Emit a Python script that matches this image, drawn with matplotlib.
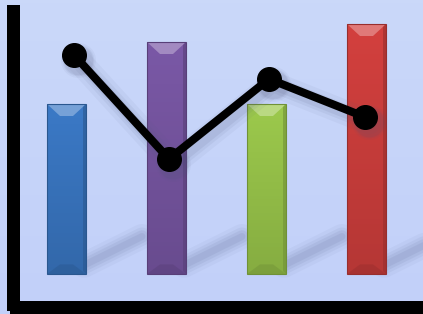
import numpy as np
import matplotlib
matplotlib.use("Agg")
from matplotlib import pyplot as plt, patches, colors

# data
categories = ["A", "B", "C", "D"]
bar_values = [6.8, 9.28, 6.8, 10.0]
bar_colors = ["#3b79c6", "#7a58a6", "#9cc94c", "#d3403e"]
line_x = [0.075, 1.025, 2.025, 2.985]
line_values = [8.76, 4.6, 7.8, 6.28]

W, H = 423, 314
fig = plt.figure(figsize=(W / 100, H / 100), dpi=100)
ax = fig.add_axes([0, 0, 1, 1])
# 1 unit in x = 100 px, 1 unit in y = 25 px
ax.set_xlim(-0.665, 3.565)
ax.set_ylim(-1.6, 10.96)
ax.axis("off")

# background gradient
bg = colors.LinearSegmentedColormap.from_list("bg", ["#c2d0f9", "#cad8f9"])
ax.imshow(np.linspace(0, 1, 100).reshape(-1, 1), cmap=bg, aspect="auto",
          extent=[-0.665, 3.565, -1.6, 10.96], origin="lower", zorder=0)

bw = 0.39
px, py = 0.01, 0.04  # one pixel in data units

# soft shadows going up-right from the foot of each bar
for i, v in enumerate(bar_values):
    x0 = i + bw / 2
    xs = np.array([x0 - 0.02, x0 + 0.56])
    ys = np.array([0.35, 1.5])
    for lw, a in [(18, 0.05), (13, 0.07), (9, 0.09), (5, 0.10)]:
        ax.plot(xs, ys, color="#56608a", lw=lw, alpha=a,
                solid_capstyle="round", zorder=1)

# bevelled bars
bars = ax.bar(range(len(categories)), bar_values, width=bw, color=bar_colors,
              zorder=2, linewidth=0)
for b, c in zip(bars, bar_colors):
    x, w, h = b.get_x(), b.get_width(), b.get_height()
    rgb = np.array(colors.to_rgb(c))
    light = rgb + (1 - rgb) * 0.3
    dark = rgb * 0.72
    dx, dy = 13 * px, 12 * py
    # gradient body
    body = colors.LinearSegmentedColormap.from_list("b", [rgb * 0.86, rgb * 1.0])
    ax.imshow(np.linspace(0, 1, 50).reshape(-1, 1), cmap=body, aspect="auto",
              extent=[x, x + w, 0, h], origin="lower", zorder=2)
    # top bevel
    ax.add_patch(patches.Polygon([(x, h), (x + w, h), (x + w - dx, h - dy), (x + dx, h - dy)],
                                 closed=True, color=light, lw=0, zorder=3))
    # bottom bevel
    ax.add_patch(patches.Polygon([(x, 0), (x + w, 0), (x + w - dx, dy * 0.8), (x + dx, dy * 0.8)],
                                 closed=True, color=dark, alpha=0.45, lw=0, zorder=3))
    # right edge darker
    ax.add_patch(patches.Polygon([(x + w, 0), (x + w, h), (x + w - 3 * px, h - 3 * py), (x + w - 3 * px, 3 * py)],
                                 closed=True, color=dark, alpha=0.6, lw=0, zorder=3))
    ax.add_patch(patches.Rectangle((x, 0), w, h, fill=False, ec=dark, lw=0.8, zorder=4))

# line shadow
lx = np.array(line_x)
lv = np.array(line_values)
for lw, a in [(18, 0.05), (12, 0.07), (8, 0.09)]:
    ax.plot(lx + 4 * px, lv - 5 * py, color="#4c5478", lw=lw, alpha=a,
            solid_capstyle="round", solid_joinstyle="round", zorder=5)
    ax.plot(lx + 4 * px, lv - 5 * py, "o", ms=18 + lw * 0.4, color="#4c5478",
            alpha=a, mec="none", zorder=5)

ax.plot(line_x, line_values, color="black", lw=5.8, marker="o", ms=17,
        solid_joinstyle="round", zorder=6)

# thick black axes
ax.add_patch(patches.Rectangle((7 / W, 1 - 311 / H), 13 / W, 306 / H,
                               transform=fig.transFigure, color="black", lw=0, zorder=7))
ax.add_patch(patches.Rectangle((10 / W, 0), 413 / W, 13 / H,
                               transform=fig.transFigure, color="black", lw=0, zorder=7))

fig.savefig("out.png", dpi=100)
